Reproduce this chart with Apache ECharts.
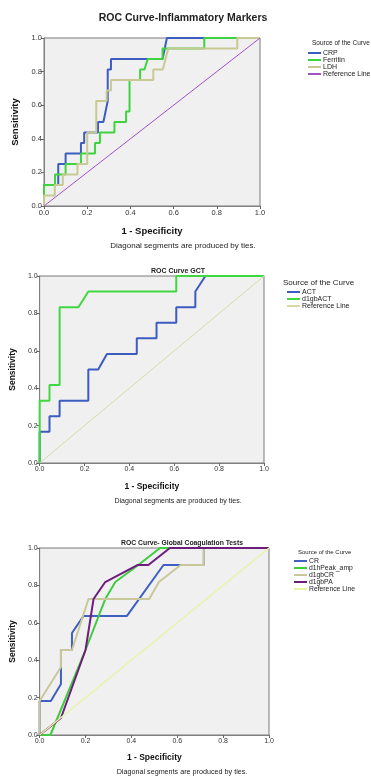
<!DOCTYPE html>
<html>
<head>
<meta charset="utf-8">
<script src="https://cdn.jsdelivr.net/npm/echarts@6/dist/echarts.min.js"></script>
<style>
html,body{margin:0;padding:0;background:#fff;}
#c{width:371px;height:776px;}
</style>
</head>
<body>
<div id="c"></div>
<script>
// ---------- Data (1 - Specificity, Sensitivity) ----------
// Panel 1: Inflammatory markers
const crp = [[0,0],[0,0.125],[0.066,0.125],[0.066,0.25],[0.1,0.25],[0.1,0.3125],[0.171,0.3125],[0.171,0.375],[0.186,0.375],[0.186,0.4375],[0.25,0.4375],[0.25,0.5],[0.275,0.5],[0.295,0.625],[0.295,0.8125],[0.31,0.8125],[0.31,0.875],[0.549,0.875],[0.569,1],[1,1]];
const ferritin = [[0,0],[0,0.125],[0.051,0.125],[0.051,0.1875],[0.1,0.1875],[0.1,0.25],[0.171,0.25],[0.171,0.3125],[0.236,0.3125],[0.236,0.375],[0.259,0.375],[0.259,0.4375],[0.326,0.4375],[0.326,0.5],[0.38,0.5],[0.38,0.5625],[0.396,0.5625],[0.396,0.75],[0.445,0.75],[0.445,0.8125],[0.465,0.8125],[0.48,0.875],[0.549,0.875],[0.549,0.9375],[0.742,0.9375],[0.742,1],[1,1]];
const ldh = [[0,0],[0,0.0625],[0.05,0.0625],[0.05,0.125],[0.087,0.125],[0.087,0.1875],[0.155,0.1875],[0.155,0.25],[0.2,0.25],[0.2,0.4375],[0.242,0.4375],[0.242,0.625],[0.29,0.625],[0.29,0.6875],[0.31,0.6875],[0.31,0.75],[0.506,0.75],[0.506,0.8125],[0.55,0.8125],[0.575,0.9375],[0.895,0.9375],[0.895,1],[1,1]];
// Panel 2: GCT
const act = [[0,0],[0,0.1667],[0.044,0.1667],[0.044,0.25],[0.089,0.25],[0.089,0.3333],[0.217,0.3333],[0.217,0.5],[0.261,0.5],[0.3,0.5833],[0.433,0.5833],[0.433,0.6667],[0.521,0.6667],[0.521,0.75],[0.609,0.75],[0.609,0.8333],[0.694,0.8333],[0.694,0.9167],[0.739,1],[1,1]];
const d1gbACT = [[0,0],[0,0.3333],[0.044,0.3333],[0.044,0.4167],[0.089,0.4167],[0.089,0.8333],[0.173,0.8333],[0.217,0.9167],[0.609,0.9167],[0.609,1],[1,1]];
// Panel 3: Global coagulation tests
const cr = [[0,0],[0,0.182],[0.049,0.182],[0.093,0.273],[0.093,0.364],[0.093,0.4545],[0.141,0.4545],[0.141,0.5455],[0.191,0.636],[0.38,0.636],[0.54,0.909],[0.716,0.909],[0.716,1],[1,1]];
const d1hPeakAmp = [[0,0],[0.047,0],[0.2,0.4545],[0.286,0.727],[0.33,0.818],[0.43,0.909],[0.525,1],[1,1]];
const d1gbCR = [[0,0],[0,0.182],[0.093,0.364],[0.093,0.4545],[0.141,0.4545],[0.213,0.727],[0.478,0.727],[0.52,0.818],[0.615,0.909],[0.716,0.909],[0.716,1],[1,1]];
const d1gbPA = [[0,0],[0.093,0.091],[0.2,0.4545],[0.235,0.727],[0.286,0.818],[0.426,0.909],[0.474,0.909],[0.568,1],[1,1]];
const refLine = [[0,0],[1,1]];
const tickValues = [0, 0.2, 0.4, 0.6, 0.8, 1.0];

// ---------- Chart ----------
const FONT = '"Liberation Sans", Arial, sans-serif';
const chart = echarts.init(document.getElementById('c'), null, {renderer:'canvas'});

const grids = [
  {left:44, top:38, width:216, height:168},
  {left:38, top:276, width:226, height:187},
  {left:39, top:548, width:230, height:187}
];
const xNameGap = [20, 19, 18];
const yNameGap = [23, 21, 22];
const nameSize = [9.5, 8.5, 8.5];
const tickSize = [7.5, 7, 7];

function mkX(i){
  return {gridIndex:i, type:'value', min:0, max:1, interval:0.2,
    name:'1 - Specificity', nameLocation:'middle', nameGap:xNameGap[i],
    nameTextStyle:{fontFamily:FONT, fontWeight:'bold', fontSize:nameSize[i], color:'#111'},
    axisLine:{show:true, lineStyle:{color:'#808080', width:1}},
    axisTick:{show:true, length:3, lineStyle:{color:'#666'}},
    axisLabel:{fontFamily:FONT, fontSize:tickSize[i], color:'#333', margin:3,
      formatter:v=>v.toFixed(1), showMinLabel:true, showMaxLabel:true},
    splitLine:{show:false}};
}
function mkY(i){
  return {gridIndex:i, type:'value', min:0, max:1, interval:0.2,
    name:'Sensitivity', nameLocation:'middle', nameGap:yNameGap[i], nameRotate:90,
    nameTextStyle:{fontFamily:FONT, fontWeight:'bold', fontSize:nameSize[i], color:'#111'},
    axisLine:{show:true, lineStyle:{color:'#808080', width:1}},
    axisTick:{show:true, length:3, lineStyle:{color:'#666'}},
    axisLabel:{fontFamily:FONT, fontSize:tickSize[i], color:'#333', margin:2,
      formatter:v=>v.toFixed(1), showMinLabel:true, showMaxLabel:true},
    splitLine:{show:false}};
}
function line(name, data, idx, color, width){
  return {name:name, type:'line', data:data, xAxisIndex:idx, yAxisIndex:idx,
    showSymbol:false, symbol:'none', clip:false, animation:false,
    color:color, lineStyle:{color:color, width:width}, z:2};
}
function txt(x, y, text, size, weight, align){
  return {type:'text', x:x, y:y, style:{text:text, fill:'#222',
    font:(weight||'normal')+' '+size+'px '+FONT, align:align||'center', verticalAlign:'middle'}};
}
function legend(left, top, names, size){
  return {left:left, top:top, orient:'vertical', data:names, selectedMode:false,
    icon:'rect', itemWidth:13, itemHeight:2, itemGap:0, padding:0,
    textStyle:{fontFamily:FONT, fontSize:size, color:'#222', lineHeight:7, padding:[0,0,0,-3]}};
}

const option = {
  backgroundColor:'#ffffff',
  animation:false,
  grid: grids.map(g=>Object.assign({show:true, backgroundColor:'#f0f0f0', borderColor:'#7a7a7a', borderWidth:1}, g)),
  xAxis:[mkX(0), mkX(1), mkX(2)],
  yAxis:[mkY(0), mkY(1), mkY(2)],
  legend:[
    legend(308, 49.5, ['CRP','Ferritin','LDH','Reference Line'], 7),
    legend(287, 288.5, ['ACT','d1gbACT','Reference Line '], 7),
    legend(294, 557.5, ['CR','d1hPeak_amp','d1gbCR','d1gbPA','Reference Line  '], 6.8)
  ],
  series:[
    line('CRP', crp, 0, '#3c5cbf', 2),
    line('Ferritin', ferritin, 0, '#3fd43f', 2),
    line('LDH', ldh, 0, '#c9c996', 2),
    line('Reference Line', refLine, 0, '#a052c6', 1),
    line('ACT', act, 1, '#3c5cbf', 2),
    line('d1gbACT', d1gbACT, 1, '#40d840', 2),
    line('Reference Line ', refLine, 1, '#d6dba6', 1),
    line('CR', cr, 2, '#3f60c0', 2),
    line('d1hPeak_amp', d1hPeakAmp, 2, '#40cc40', 2),
    line('d1gbCR', d1gbCR, 2, '#c8c89a', 2),
    line('d1gbPA', d1gbPA, 2, '#6e1d7c', 2),
    line('Reference Line  ', refLine, 2, '#eaf2a8', 1.5)
  ],
  graphic:[
    txt(183, 18, 'ROC Curve-Inflammatory Markers', 10.5, 'bold'),
    txt(312, 43, 'Source of the Curve', 6.5, 'normal', 'left'),
    txt(183, 246, 'Diagonal segments are produced by ties.', 8),
    txt(178, 271, 'ROC Curve GCT', 7, 'bold'),
    txt(283, 283, 'Source of the Curve', 8, 'normal', 'left'),
    txt(178, 501, 'Diagonal segments are produced by ties.', 7),
    txt(182, 543, 'ROC Curve- Global Coagulation Tests', 6.8, 'bold'),
    txt(298, 552, 'Source of the Curve', 6, 'normal', 'left'),
    txt(182, 772, 'Diagonal segments are produced by ties.', 7.2)
  ]
};
chart.setOption(option);
</script>
</body>
</html>
